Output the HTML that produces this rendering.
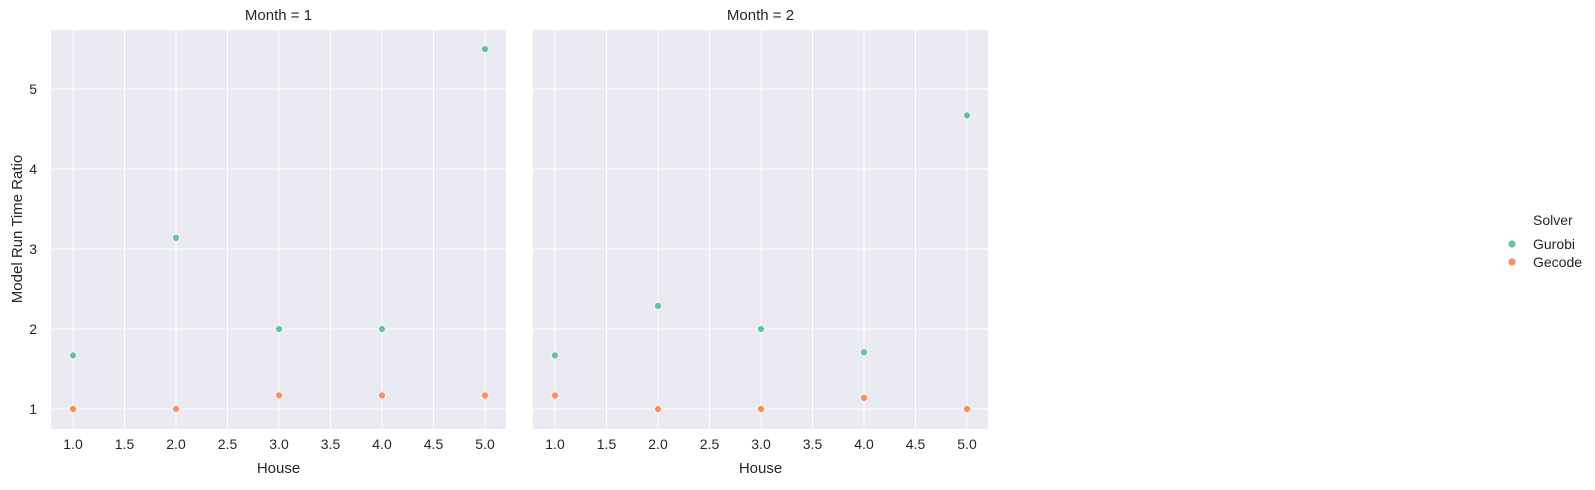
<!DOCTYPE html>
<html><head><meta charset="utf-8"><style>
body{margin:0;background:#fff;width:1595px;height:485px;overflow:hidden;font-family:"Liberation Sans",sans-serif}
</style></head><body>
<svg id="chart" width="1595" height="485" font-family="Liberation Sans, sans-serif"></svg>
<script>
const houses=[1,2,3,4,5];
const months=[1,2];
const gurobiM1=[1.67,3.14,2.0,2.0,5.5];
const gecodeM1=[1.0,1.0,1.17,1.17,1.17];
const gurobiM2=[1.67,2.29,2.0,1.71,4.67];
const gecodeM2=[1.17,1.0,1.0,1.14,1.0];
const xTicks=[1.0,1.5,2.0,2.5,3.0,3.5,4.0,4.5,5.0];
const yTicks=[1,2,3,4,5];
const svg=document.getElementById('chart');
const NS='http://www.w3.org/2000/svg';
function mk(t,a,p){const e=document.createElementNS(NS,t);for(const k in a)e.setAttribute(k,a[k]);(p||svg).appendChild(e);return e;}
const panels=[{left:51,g:gurobiM1,o:gecodeM1},{left:533,g:gurobiM2,o:gecodeM2}];
const W=455,plotTop=30,plotBottom=429;
const yS=v=>409-(v-1)*80;
panels.forEach((p,i)=>{
  const xS=v=>p.left+22+(v-1)*103;
  const g=mk('g',{});
  
  
  mk('rect',{x:p.left,y:plotTop,width:W,height:plotBottom-plotTop,fill:'#eaeaf2'},g);
  xTicks.forEach(t=>{
    mk('line',{x1:xS(t),x2:xS(t),y1:plotTop,y2:plotBottom,stroke:'#fff','stroke-width':1},g);
    const tx=mk('text',{x:xS(t),y:plotBottom+20,'text-anchor':'middle','font-size':14,fill:'#262626'},g);
    tx.textContent=t.toFixed(1);
    
    
  });
  yTicks.forEach(t=>{
    mk('line',{x1:p.left,x2:p.left+W,y1:yS(t),y2:yS(t),stroke:'#fff','stroke-width':1},g);
    if(i===0){
      const tx=mk('text',{x:p.left-14,y:yS(t)+5,'text-anchor':'end','font-size':14,fill:'#262626'},g);
      tx.textContent=t;
      
      
    }
  });
  const tt=mk('text',{x:p.left+W/2,y:20,'text-anchor':'middle','font-size':15,fill:'#262626'},g);
  tt.textContent='Month = '+months[i];
  
  
  const xl=mk('text',{x:p.left+W/2,y:473,'text-anchor':'middle','font-size':15,fill:'#262626'},g);
  xl.textContent='House';
  
  
  houses.forEach((h,j)=>{
    const c1=mk('circle',{cx:xS(h),cy:yS(p.g[j]),r:3.6,fill:'#66c2a5',stroke:'#fff','stroke-width':0.8},g);
    
    
    const c2=mk('circle',{cx:xS(h),cy:yS(p.o[j]),r:3.6,fill:'#fc8d62',stroke:'#fff','stroke-width':0.8},g);
    
    
  });
});
const yl=mk('text',{x:0,y:0,'text-anchor':'middle','font-size':15,fill:'#262626',transform:'translate(22,229) rotate(-90)'});
yl.textContent='Model Run Time Ratio';


const lg=mk('g',{});


const lt=mk('text',{x:1533,y:225,'font-size':14,fill:'#262626'},lg);
lt.textContent='Solver';
[['Gurobi','#66c2a5',244],['Gecode','#fc8d62',262]].forEach(d=>{
  const e=mk('g',{},lg);
  
  
  mk('circle',{cx:1512,cy:d[2],r:4,fill:d[1],stroke:'#fff','stroke-width':0.8},e);
  const t=mk('text',{x:1533,y:d[2]+5,'font-size':14,fill:'#262626'},e);
  t.textContent=d[0];
});
</script>
</body></html>
